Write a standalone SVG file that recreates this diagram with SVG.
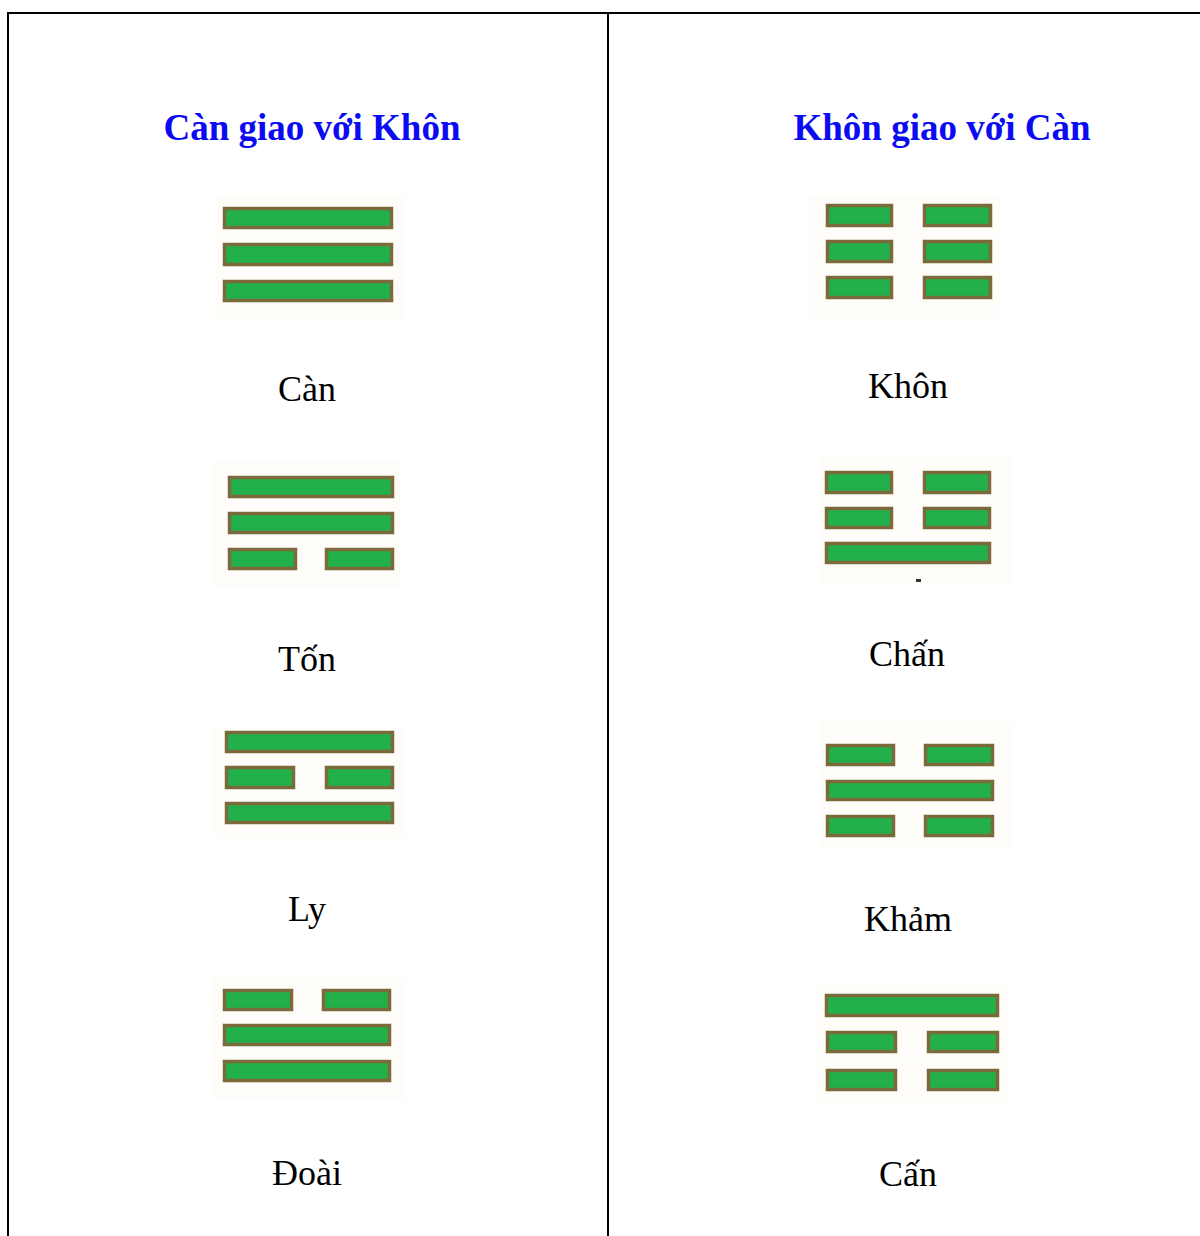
<svg xmlns="http://www.w3.org/2000/svg" width="1200" height="1236" viewBox="0 0 1200 1236">
<style>
.bg{fill:#fffdf9}
.bar{fill:#22b04b;stroke:#7b6b3c;stroke-width:3.5}
.title{font-family:"Liberation Serif","Times New Roman",serif;font-size:37px;font-weight:bold;fill:#0b0bf2;text-anchor:middle}
.lbl{font-family:"Liberation Serif","Times New Roman",serif;font-size:36px;fill:#000;text-anchor:middle}
.frame{stroke:#000;stroke-width:2;fill:none}
</style>
<rect width="1200" height="1236" fill="#fff"/>
<g id="frame">
<path class="frame" d="M8 1236V13H1200M608 13V1236"/>
</g>
<text class="title" x="312" y="140">Càn giao với Khôn</text>
<text class="title" x="942" y="140">Khôn giao với Càn</text>
<g id="can">
<rect class="bg" x="215" y="195" width="190" height="125"/>
<rect class="bar" x="224.5" y="208.5" width="167" height="19"/>
<rect class="bar" x="224.5" y="244.5" width="167" height="20"/>
<rect class="bar" x="224.5" y="281.5" width="167" height="19"/>
<text class="lbl" x="307" y="401">Càn</text>
</g>
<g id="ton">
<rect class="bg" x="212" y="460" width="190" height="128"/>
<rect class="bar" x="229.5" y="477.5" width="163" height="19"/>
<rect class="bar" x="229.5" y="513.5" width="163" height="19"/>
<rect class="bar" x="229.5" y="549.5" width="66" height="19"/>
<rect class="bar" x="326.5" y="549.5" width="66" height="19"/>
<text class="lbl" x="307" y="671">Tốn</text>
</g>
<g id="ly">
<rect class="bg" x="213" y="727" width="192" height="111"/>
<rect class="bar" x="226.5" y="732.5" width="166" height="19"/>
<rect class="bar" x="226.5" y="767.5" width="67" height="20"/>
<rect class="bar" x="326.5" y="767.5" width="66" height="20"/>
<rect class="bar" x="226.5" y="803.5" width="166" height="19"/>
<text class="lbl" x="307" y="921">Ly</text>
</g>
<g id="doai">
<rect class="bg" x="212" y="978" width="193" height="122"/>
<rect class="bar" x="224.5" y="990.5" width="67" height="19"/>
<rect class="bar" x="323.5" y="990.5" width="66" height="19"/>
<rect class="bar" x="224.5" y="1025.5" width="165" height="19"/>
<rect class="bar" x="224.5" y="1061.5" width="165" height="19"/>
<text class="lbl" x="307" y="1185">Đoài</text>
</g>
<g id="khon">
<rect class="bg" x="808" y="195" width="192" height="123"/>
<rect class="bar" x="827.5" y="205.5" width="64" height="20"/>
<rect class="bar" x="924.5" y="205.5" width="66" height="20"/>
<rect class="bar" x="827.5" y="241.5" width="64" height="20"/>
<rect class="bar" x="924.5" y="241.5" width="66" height="20"/>
<rect class="bar" x="827.5" y="277.5" width="64" height="20"/>
<rect class="bar" x="924.5" y="277.5" width="66" height="20"/>
<text class="lbl" x="908" y="398">Khôn</text>
</g>
<g id="chan">
<rect class="bg" x="820" y="455" width="192" height="128"/>
<rect class="bar" x="826.5" y="472.5" width="65" height="20"/>
<rect class="bar" x="924.5" y="472.5" width="65" height="20"/>
<rect class="bar" x="826.5" y="508.5" width="65" height="19"/>
<rect class="bar" x="924.5" y="508.5" width="65" height="19"/>
<rect class="bar" x="826.5" y="543.5" width="163" height="19"/>
<rect x="916" y="579" width="5" height="3" fill="#333"/>
<text class="lbl" x="907" y="666">Chấn</text>
</g>
<g id="kham">
<rect class="bg" x="820" y="722" width="193" height="126"/>
<rect class="bar" x="827.5" y="745.5" width="66" height="19"/>
<rect class="bar" x="925.5" y="745.5" width="67" height="19"/>
<rect class="bar" x="827.5" y="781.5" width="165" height="18"/>
<rect class="bar" x="827.5" y="816.5" width="66" height="19"/>
<rect class="bar" x="925.5" y="816.5" width="67" height="19"/>
<text class="lbl" x="908" y="931">Khảm</text>
</g>
<g id="cancan">
<rect class="bg" x="817" y="985" width="193" height="117"/>
<rect class="bar" x="826.5" y="995.5" width="171" height="20"/>
<rect class="bar" x="827.5" y="1032.5" width="68" height="19"/>
<rect class="bar" x="928.5" y="1032.5" width="69" height="19"/>
<rect class="bar" x="827.5" y="1070.5" width="68" height="19"/>
<rect class="bar" x="928.5" y="1070.5" width="69" height="19"/>
<text class="lbl" x="908" y="1186">Cấn</text>
</g>
</svg>
